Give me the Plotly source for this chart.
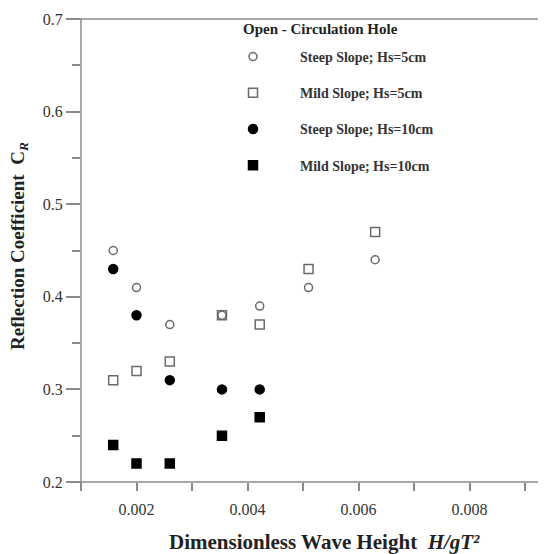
import plotly.graph_objects as go

x_vals = [0.00158, 0.0020, 0.0026, 0.00354, 0.00422, 0.0051, 0.0063]
steep_5 = [0.45, 0.41, 0.37, 0.38, 0.39, 0.41, 0.44]
mild_5 = [0.31, 0.32, 0.33, 0.38, 0.37, 0.43, 0.47]
x_vals_10 = [0.00158, 0.0020, 0.0026, 0.00354, 0.00422]
steep_10 = [0.43, 0.38, 0.31, 0.30, 0.30]
mild_10 = [0.24, 0.22, 0.22, 0.25, 0.27]

x_ticks = [0.002, 0.004, 0.006, 0.008]
y_ticks = [0.2, 0.3, 0.4, 0.5, 0.6, 0.7]

SERIF = "Liberation Serif, Times New Roman, serif"
AX = "#8a8a8a"

# figure sits inside the 8px body margin of the page
W, H = 538, 546
L, T, B, R = 73, 11, 72, 0
PW, PH = W - L - R, H - T - B
OFF = 8  # page offset of the figure

fig = go.Figure()
series = [
    ("<b>Steep Slope; Hs=5cm</b>", x_vals, steep_5, "circle-open", "#6a6a6a", 8),
    ("<b>Mild Slope; Hs=5cm</b>", x_vals, mild_5, "square-open", "#6a6a6a", 9),
    ("<b>Steep Slope; Hs=10cm</b>", x_vals_10, steep_10, "circle", "black", 9),
    ("<b>Mild Slope; Hs=10cm</b>", x_vals_10, mild_10, "square", "black", 9),
]
for i, (name, xs, ys, sym, col, sz) in enumerate(series):
    fig.add_trace(go.Scatter(
        x=xs, y=ys, mode="markers", name=name, legendgroup=str(i),
        marker=dict(symbol=sym, size=sz, color=col, line=dict(color=col, width=1.5)),
    ))

top_px = T + OFF      # 19
left_px = L + OFF     # 81
bot_px = top_px + PH  # 482

fig.update_layout(
    width=W, height=H,
    margin=dict(l=L, r=R, t=T, b=B),
    plot_bgcolor="white", paper_bgcolor="white",
    font=dict(family=SERIF, color="#222222"),
    showlegend=True,
    legend=dict(
        x=(206 - left_px) / PW, y=1 - (41 - top_px) / PH, xanchor="left", yanchor="top",
        bgcolor="rgba(0,0,0,0)",
        font=dict(size=14, family=SERIF, color="#333"),
        tracegroupgap=15, itemwidth=84,
    ),
    xaxis=dict(
        range=[0.001, 0.001 + PW / 55.5 * 0.001], showgrid=False, zeroline=False, showline=False,
        tickvals=x_ticks, ticktext=[f"{v:.3f}" for v in x_ticks],
        ticks="outside", ticklen=8, tickcolor=AX, tickwidth=1.5,
        minor=dict(tickvals=[0.001, 0.003, 0.005, 0.007, 0.009], ticks="outside", ticklen=8, tickcolor=AX, tickwidth=1.5),
        tickfont=dict(size=16, family=SERIF, color="#333"),
        ticklabelstandoff=5,
    ),
    yaxis=dict(
        range=[0.2, 0.7], showgrid=False, zeroline=False, showline=False,
        tickvals=y_ticks, ticktext=[f"{v:.1f}" for v in y_ticks],
        ticks="outside", ticklen=14, tickcolor=AX, tickwidth=1.5,
        minor=dict(tickvals=[0.25, 0.35, 0.45, 0.55, 0.65], ticks="outside", ticklen=8, tickcolor=AX, tickwidth=1.5),
        tickfont=dict(size=16, family=SERIF, color="#333"),
    ),
)

fig.add_annotation(
    text="<b>Open - Circulation Hole</b>", xref="paper", yref="paper",
    x=(241 - left_px) / PW, y=1 - (29 - top_px) / PH, xanchor="left", yanchor="middle",
    showarrow=False, font=dict(size=15, family=SERIF, color="#222"),
)
fig.add_annotation(
    text="<b>Dimensionless Wave Height  <i>H/gT²</i></b>", xref="paper", yref="paper",
    x=(324 - left_px) / PW, y=-(542 - bot_px) / PH, xanchor="center", yanchor="middle",
    showarrow=False, font=dict(size=21, family=SERIF, color="#222"),
)
fig.add_annotation(
    text="<b>Reflection Coefficient  C<sub><i>R</i></sub></b>", xref="paper", yref="paper",
    x=-(left_px - 19) / PW, y=1 - (246 - top_px) / PH, xanchor="center", yanchor="middle",
    textangle=-90, showarrow=False, font=dict(size=19, family=SERIF, color="#222"),
)

ext = 14 / PW
fig.add_shape(type="line", xref="paper", yref="paper", x0=-ext, x1=1, y0=1, y1=1, line=dict(color=AX, width=1.5))
fig.add_shape(type="line", xref="paper", yref="paper", x0=-ext, x1=1, y0=0, y1=0, line=dict(color=AX, width=1.5))
fig.add_shape(type="line", xref="paper", yref="paper", x0=0, x1=0, y0=-8 / PH, y1=1, line=dict(color=AX, width=1.5))

fig.write_html("out.html")
